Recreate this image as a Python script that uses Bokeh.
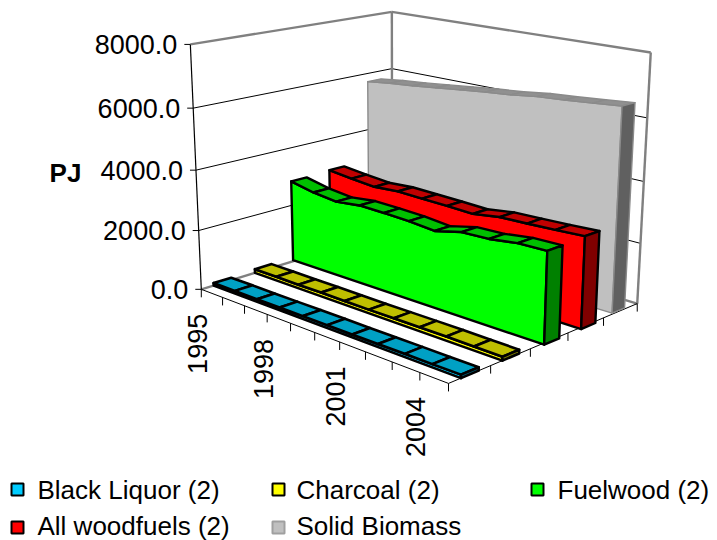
import numpy as np
from bokeh.embed import file_html
from bokeh.resources import INLINE
from bokeh.plotting import figure
from bokeh.models import Range1d
from bokeh.core.properties import value

years = list(range(1995, 2006))
year_labels = ["1995", "1998", "2001", "2004"]
pj_ticks = [0, 2000, 4000, 6000, 8000]
series_names = ["Black Liquor (2)", "Charcoal (2)", "Fuelwood (2)", "All woodfuels (2)", "Solid Biomass"]

black_liquor = [85, 90, 85, 90, 95, 95, 90, 95, 100, 100, 105]
charcoal = [130, 130, 125, 130, 125, 120, 125, 130, 135, 125, 120]
fuelwood = [2810, 2640, 2550, 2650, 2630, 2600, 2520, 2730, 2760, 2880, 2900]
all_woodfuels = [2860, 2770, 2700, 2760, 2740, 2720, 2690, 2820, 2850, 2890, 2940]
solid_biomass = [5730, 5830, 5900, 5990, 6080, 6170, 6240, 6350, 6410, 6480, 6560]

# camera: where the chart box's reference points sit on the page (year 0..1, depth 0..1, height 0..1)
CAL = [((0, 0, 0), (200, 289)), ((1, 0, 0), (448, 383)), ((1, 1, 0), (637, 303)), ((0, 1, 0), (391, 230)),
       ((0, 0, 1), (189, 44)), ((0, 1, 1), (391, 11)), ((1, 1, 1), (650, 52)), ((0, 0, .75), (193, 108)),
       ((0, 0, .5), (196, 169)), ((0, 0, .25), (199, 230)), ((0, 1, .75), (392, 68)), ((0, 1, .5), (392, 124.5))]
A = []
for (X, Y, Z), (x, y) in CAL:
    x, y = x / 500, y / 500
    A.append([X, Y, Z, 1, 0, 0, 0, 0, -x * X, -x * Y, -x * Z, -x])
    A.append([0, 0, 0, 0, X, Y, Z, 1, -y * X, -y * Y, -y * Z, -y])
P = np.linalg.svd(np.array(A, float))[2][-1].reshape(3, 4)


def pr(u, v, pj):
    h = P @ np.array([u, v, pj / 8000, 1.0])
    return 500 * h[0] / h[2], 500 * h[1] / h[2]


def poly(pts):
    return [q[0] for q in pts], [q[1] for q in pts]


p = figure(width=717, height=540, x_range=Range1d(0, 717), y_range=Range1d(540, 0),
           x_axis_type=None, y_axis_type=None, toolbar_location=None, output_backend="svg",
           min_border=0, outline_line_color=None)
p.xgrid.visible = False
p.ygrid.visible = False
FONT = value("Liberation Sans")
GRAY = "#808080"


def seg(a, b, color="black", w=1.0):
    p.line([a[0], b[0]], [a[1], b[1]], line_color=color, line_width=w)


# walls
for t in pj_ticks[1:-1]:
    seg(pr(0, 0, t), pr(0, 1, t))
    seg(pr(0, 1, t), pr(1, 1, t))
for t in pj_ticks:
    a = pr(0, 0, t)
    seg((a[0] - 6, a[1]), a)
    p.text([a[0] - 13], [a[1]], text=[f"{t:.1f}"], text_font=FONT, text_font_size="27px",
           text_align="right", text_baseline="middle", text_color="black")
seg(pr(0, 0, 0), pr(0, 1, 0), GRAY, 2.4)
seg(pr(0, 1, 0), pr(1, 1, 0), GRAY, 2.4)
seg(pr(0, 0, 8000), pr(0, 1, 8000), GRAY, 2.4)
seg(pr(0, 1, 8000), pr(1, 1, 8000), GRAY, 2.4)
seg(pr(0, 1, 0), pr(0, 1, 8000), GRAY, 2.4)
seg(pr(1, 1, 0), pr(1, 1, 8000), GRAY, 2.4)
seg(pr(0, 0, 0), pr(0, 0, 8000), "black", 1.2)

# floor axes
seg(pr(0, 0, 0), pr(1, 0, 0))
seg(pr(1, 0, 0), pr(1, 1, 0))
for i, yr in enumerate(years):
    a = pr(i / 10, 0, 0)
    seg(a, (a[0], a[1] + 8))
    if str(yr) in year_labels:
        p.text([a[0] - 4], [a[1] + 24.5], text=[str(yr)], text_font=FONT, text_font_size="27px", angle=np.pi / 2,
               text_align="right", text_baseline="middle", text_color="black")
for k in range(1, 6):
    a = pr(1, k / 5, 0)
    seg(a, (a[0], a[1] + 8))

p.text([65], [172], text=["PJ"], text_font=FONT, text_font_size="26px", text_font_style="bold",
       text_align="center", text_baseline="middle", text_color="black")


def ribbon(vals, v, face, top, side, edge, w, pad, hw):
    f, b = v - hw, v + hw
    n = len(vals) - 1
    us = [-pad + (1 + 2 * pad) * i / n for i in range(n + 1)]
    front = [pr(us[0], f, 0), pr(us[-1], f, 0)] + [pr(us[i], f, vals[i]) for i in range(n, -1, -1)]
    x, y = poly(front)
    p.patch(x, y, fill_color=face, line_color=edge, line_width=w, line_join="round")
    for i in range(n):
        q = [pr(us[i], f, vals[i]), pr(us[i + 1], f, vals[i + 1]), pr(us[i + 1], b, vals[i + 1]), pr(us[i], b, vals[i])]
        x, y = poly(q)
        p.patch(x, y, fill_color=top, line_color=edge, line_width=w, line_join="round")
    q = [pr(us[-1], f, 0), pr(us[-1], b, 0), pr(us[-1], b, vals[-1]), pr(us[-1], f, vals[-1])]
    x, y = poly(q)
    p.patch(x, y, fill_color=side, line_color=edge, line_width=w, line_join="round")


ribbon(solid_biomass, .895, "#C0C0C0", "#909090", "#606060", "#8A8A8A", 1.4, -0.005, .037)
ribbon(all_woodfuels, .7, "#FF0000", "#BF0000", "#800000", "black", 2.4, .008, .04)
ribbon(fuelwood, .5, "#00FF00", "#00BF00", "#008000", "black", 2.4, .008, .04)
ribbon(charcoal, .3, "#FFFF00", "#BFBF00", "#808000", "black", 2.6, 0, .042)
ribbon(black_liquor, .1, "#00CCFF", "#00A0C4", "#006680", "black", 2.6, 0, .042)

# legend
legend_colors = ["#00CCFF", "#FFFF00", "#00FF00", "#FF0000", "#C0C0C0"]
legend_edges = ["black", "black", "black", "black", "#A0A0A0"]
sw_x = [17, 278, 537, 17, 278]
text_x = [37, 296, 557, 37, 296]
row_y = [489, 525]
row = [0, 0, 0, 1, 1]
for name, c, e, sx, tx, r in zip(series_names, legend_colors, legend_edges, sw_x, text_x, row):
    yy = row_y[r]
    p.rect([sx], [yy + (2 if r else 0)], width=12, height=12, fill_color=c, line_color=e, line_width=2)
    p.text([tx], [yy], text=[name], text_font=FONT, text_font_size="26px",
           text_align="left", text_baseline="middle", text_color="black")

open("out.html", "w").write(file_html(p, INLINE))
